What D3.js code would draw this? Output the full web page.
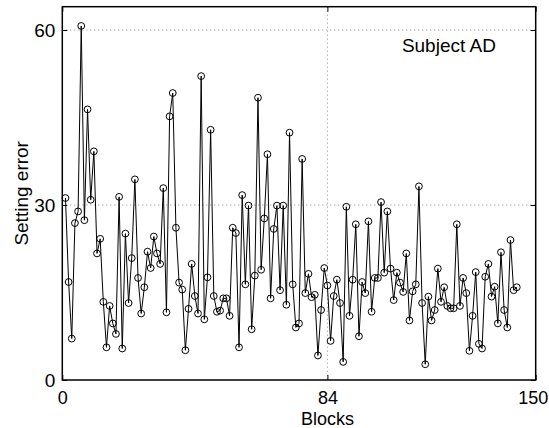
<!DOCTYPE html>
<html>
<head>
<meta charset="utf-8">
<script src="https://cdn.jsdelivr.net/npm/d3@7"></script>
<style>
  body { margin: 0; background: #fff; }
  text { font-family: Arial, "Liberation Sans", Helvetica, sans-serif; }
</style>
</head>
<body>
<div id="chart"></div>
<script>
// Setting error per block, subject AD (blocks 1..144)
const settingError = [
  31.2, 16.8, 7.1, 26.9, 28.9, 60.7, 27.4, 46.4, 30.9, 39.2,
  21.7, 24.2, 13.4, 5.6, 12.7, 9.7, 7.9, 31.4, 5.4, 25.1,
  13.2, 20.9, 34.4, 17.5, 11.4, 15.9, 22.0, 19.2, 24.6, 21.7,
  19.9, 32.9, 11.6, 45.2, 49.2, 26.1, 16.7, 15.5, 5.1, 12.2,
  19.9, 14.4, 11.4, 52.1, 10.4, 17.6, 42.9, 14.4, 11.7, 11.9,
  14.0, 14.0, 11.0, 26.1, 25.2, 5.6, 31.7, 16.4, 29.9, 8.7,
  17.9, 48.4, 18.9, 27.7, 38.7, 14.0, 25.9, 29.9, 15.4, 29.9,
  12.9, 42.4, 16.4, 9.0, 9.7, 37.9, 14.9, 18.2, 14.2, 14.6,
  4.2, 12.0, 19.2, 16.2, 6.7, 14.4, 17.2, 13.2, 3.1, 29.7,
  11.0, 17.2, 26.7, 7.5, 16.8, 14.9, 27.2, 11.7, 17.5, 17.5,
  30.5, 18.4, 28.9, 19.1, 13.7, 18.4, 16.7, 15.1, 21.7, 10.2,
  15.2, 16.4, 33.2, 13.2, 2.7, 14.3, 10.2, 12.0, 19.1, 13.4,
  15.9, 12.7, 12.3, 12.3, 26.7, 12.7, 17.5, 14.9, 5.0, 11.0,
  18.5, 6.2, 5.4, 17.7, 19.9, 14.3, 16.0, 9.7, 21.9, 12.0,
  9.0, 24.0, 15.4, 15.9
];
const xTicks = [0, 84, 150];
const yTicks = [0, 30, 60];
const xDomain = [0, 150];
const yDomain = [0, 64];

const data = settingError.map((v, i) => ({ block: i + 1, value: v }));

// --- Chart dimensions ---
const margin = { top: 6.7, right: 13.3, bottom: 48, left: 62.3 };
const width = 549 - margin.left - margin.right;
const height = 428 - margin.top - margin.bottom;

const svg = d3.select("#chart")
  .append("svg")
  .attr("width", 549)
  .attr("height", 428)
  .append("g")
  .attr("transform", `translate(${margin.left},${margin.top})`);

// --- Scales ---
const x = d3.scaleLinear().domain(xDomain).range([0, width]);
const y = d3.scaleLinear().domain(yDomain).range([height, 0]);

// --- Dotted grid ---
svg.selectAll(".hgrid")
  .data(yTicks.filter(t => t > 0))
  .enter()
  .append("line")
  .attr("x1", 0).attr("x2", width)
  .attr("y1", d => y(d)).attr("y2", d => y(d))
  .attr("stroke", "#888")
  .attr("stroke-width", 1)
  .attr("stroke-dasharray", "1,3");

svg.selectAll(".vgrid")
  .data(xTicks.filter(t => t > 0 && t < 150))
  .enter()
  .append("line")
  .attr("x1", d => x(d)).attr("x2", d => x(d))
  .attr("y1", 0).attr("y2", height)
  .attr("stroke", "#888")
  .attr("stroke-width", 1)
  .attr("stroke-dasharray", "1,3");

// --- Axes (inward ticks, matlab style) ---
const tickLen = 5;
const fontSize = "19px";
const xFontSize = "18px";

const xAxis = svg.append("g")
  .attr("transform", `translate(0,${height})`)
  .call(d3.axisBottom(x).tickValues(xTicks).tickSize(-tickLen).tickPadding(11));
const xTop = svg.append("g")
  .call(d3.axisTop(x).tickValues(xTicks).tickSize(-tickLen).tickFormat(""));
const yAxis = svg.append("g")
  .call(d3.axisLeft(y).tickValues(yTicks).tickSize(-tickLen).tickPadding(7));
const yRight = svg.append("g")
  .attr("transform", `translate(${width},0)`)
  .call(d3.axisRight(y).tickValues(yTicks).tickSize(-tickLen).tickFormat(""));

[xAxis, xTop, yAxis, yRight].forEach(g => {
  g.select(".domain").remove();
  g.selectAll("line").attr("stroke", "#000");
  g.selectAll("text").style("font-size", fontSize).attr("fill", "#000");
});
xAxis.selectAll("text").style("font-size", xFontSize);

// last x label would run off the page: pull it inside like the original
xAxis.selectAll(".tick text")
  .filter(d => d === 150)
  .attr("text-anchor", "end")
  .attr("dx", "12");

// --- Frame ---
svg.append("rect")
  .attr("x", 0).attr("y", 0)
  .attr("width", width).attr("height", height)
  .attr("fill", "none")
  .attr("stroke", "#000")
  .attr("stroke-width", 1.5);

// --- Line + markers ---
const line = d3.line()
  .x(d => x(d.block))
  .y(d => y(d.value));

svg.append("path")
  .datum(data)
  .attr("d", line)
  .attr("fill", "none")
  .attr("stroke", "#000")
  .attr("stroke-width", 1);

svg.selectAll("circle")
  .data(data)
  .enter()
  .append("circle")
  .attr("cx", d => x(d.block))
  .attr("cy", d => y(d.value))
  .attr("r", 3.4)
  .attr("fill", "none")
  .attr("stroke", "#000")
  .attr("stroke-width", 1);

// --- Labels ---
svg.append("text")
  .attr("x", x(84))
  .attr("y", height + 45)
  .attr("text-anchor", "middle")
  .style("font-size", xFontSize)
  .text("Blocks");

svg.append("text")
  .attr("transform", "rotate(-90)")
  .attr("x", -height / 2)
  .attr("y", -34)
  .attr("text-anchor", "middle")
  .style("font-size", fontSize)
  .text("Setting error");

svg.append("text")
  .attr("x", x(107.6))
  .attr("y", y(56.3))
  .attr("text-anchor", "start")
  .style("font-size", fontSize)
  .text("Subject AD");
</script>
</body>
</html>
